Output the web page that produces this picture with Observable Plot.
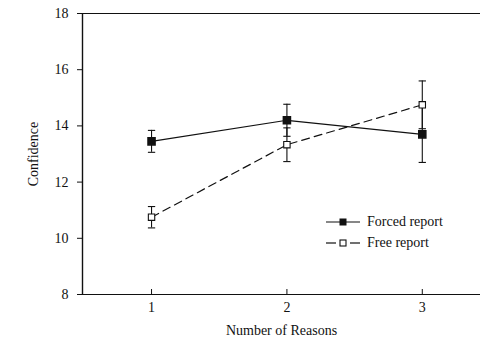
<!DOCTYPE html>
<html><head><meta charset="utf-8">
<script src="https://cdn.jsdelivr.net/npm/d3@7"></script>
<script src="https://cdn.jsdelivr.net/npm/@observablehq/plot@0.6"></script>
<style>
body{margin:0;background:#fff;}
#wrap{position:relative;width:480px;height:342px;font-family:"Liberation Serif","DejaVu Serif",serif;}
#legend{position:absolute;left:326px;top:211px;font-family:"Liberation Serif","DejaVu Serif",serif;font-size:14px;color:#111;}
#legend div{display:flex;align-items:center;height:21px;}
#legend svg{margin-right:7px;}
</style>
</head><body>
<div id="wrap"></div>
<script>
const reasons = [1, 2, 3];
const forced = [13.45, 14.2, 13.7];
const forcedErr = [0.39, 0.57, 1.0];
const free = [10.75, 13.33, 14.75];
const freeErr = [0.38, 0.6, 0.85];
const seriesNames = ["Forced report", "Free report"];
const yTicks = [8, 10, 12, 14, 16, 18];

const data = [];
reasons.forEach((r, i) => {
  data.push({series: seriesNames[0], x: r, y: forced[i], e: forcedErr[i]});
  data.push({series: seriesNames[1], x: r, y: free[i], e: freeErr[i]});
});
const fData = data.filter(d => d.series === seriesNames[0]);
const rData = data.filter(d => d.series === seriesNames[1]);
const cap = 0.027;

const chart = Plot.plot({
  width: 480, height: 342,
  marginLeft: 82, marginRight: 0, marginTop: 13, marginBottom: 48,
  style: {fontFamily: '"Liberation Serif","DejaVu Serif",serif', fontSize: "14px", color: "#111", background: "#fff"},
  x: {domain: [0.49, 3.43], ticks: reasons, tickFormat: d3.format("d"), tickSize: -5, tickPadding: 13,
      label: "Number of Reasons", labelAnchor: "center", labelArrow: "none", labelOffset: 40},
  y: {domain: [8, 18], ticks: yTicks, tickSize: 5, tickPadding: 9,
      label: "Confidence", labelAnchor: "center", labelArrow: "none", labelOffset: 54},
  marks: [
    Plot.ruleY([8, 18], {stroke: "#111", strokeWidth: 1.2}),
    Plot.ruleX([0.49], {stroke: "#111", strokeWidth: 1.4}),
    Plot.line(fData, {x: "x", y: "y", stroke: "#111", strokeWidth: 1.2}),
    Plot.line(rData, {x: "x", y: "y", stroke: "#111", strokeWidth: 1.2, strokeDasharray: "8,5"}),
    Plot.ruleX(data, {x: "x", y1: d => d.y - d.e, y2: d => d.y + d.e, stroke: "#111", strokeWidth: 1.1}),
    Plot.link(data, {x1: d => d.x - cap, x2: d => d.x + cap, y1: d => d.y - d.e, y2: d => d.y - d.e, stroke: "#111", strokeWidth: 1.1}),
    Plot.link(data, {x1: d => d.x - cap, x2: d => d.x + cap, y1: d => d.y + d.e, y2: d => d.y + d.e, stroke: "#111", strokeWidth: 1.1}),
    Plot.dot(fData, {x: "x", y: "y", symbol: "square", r: 4, fill: "#111", stroke: "#111"}),
    Plot.dot(rData, {x: "x", y: "y", symbol: "square", r: 3.6, fill: "#fff", stroke: "#111", strokeWidth: 1.1})
  ]
});
const wrap = document.getElementById("wrap");
wrap.appendChild(chart);

const legend = document.createElement("div");
legend.id = "legend";
legend.innerHTML = `
<div><svg width="34" height="10"><line x1="0" y1="5" x2="34" y2="5" stroke="#111" stroke-width="1.2"/><rect x="13.5" y="1.5" width="7" height="7" fill="#111"/></svg><span>${seriesNames[0]}</span></div>
<div><svg width="34" height="10"><line x1="0" y1="5" x2="10" y2="5" stroke="#111" stroke-width="1.2"/><line x1="24" y1="5" x2="34" y2="5" stroke="#111" stroke-width="1.2"/><rect x="14" y="2" width="6" height="6" fill="#fff" stroke="#111" stroke-width="1.1"/></svg><span>${seriesNames[1]}</span></div>`;
wrap.appendChild(legend);
</script>
</body></html>
